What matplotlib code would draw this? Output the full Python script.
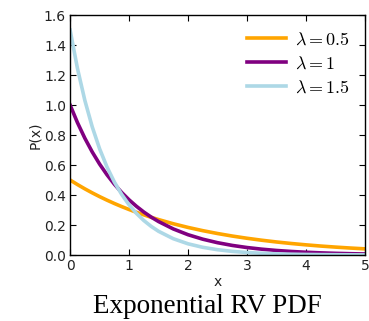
import matplotlib
matplotlib.use("Agg")
import matplotlib.pyplot as plt

x = [0, 0.125, 0.25, 0.375, 0.5, 0.625, 0.75, 0.875, 1.0, 1.125, 1.25, 1.375, 1.5,
     1.75, 2.0, 2.25, 2.5, 2.75, 3.0, 3.25, 3.5, 3.75, 4.0, 4.25, 4.5, 4.75, 5.0]
p_05 = [0.5, 0.4697, 0.4412, 0.4145, 0.3894, 0.3658, 0.3436, 0.3228, 0.3033, 0.2849, 0.2676, 0.2514, 0.2362,
        0.2084, 0.1839, 0.1623, 0.1433, 0.1264, 0.1116, 0.0985, 0.0869, 0.0767, 0.0677, 0.0597, 0.0527, 0.0465, 0.0410]
p_10 = [1.0, 0.8825, 0.7788, 0.6873, 0.6065, 0.5353, 0.4724, 0.4169, 0.3679, 0.3247, 0.2865, 0.2528, 0.2231,
        0.1738, 0.1353, 0.1054, 0.0821, 0.0639, 0.0498, 0.0388, 0.0302, 0.0235, 0.0183, 0.0143, 0.0111, 0.0087, 0.0067]
p_15 = [1.5, 1.2435, 1.0309, 0.8547, 0.7085, 0.5874, 0.4870, 0.4037, 0.3347, 0.2775, 0.2300, 0.1907, 0.1581,
        0.1087, 0.0747, 0.0513, 0.0353, 0.0242, 0.0167, 0.0114, 0.0079, 0.0054, 0.0037, 0.0025, 0.0018, 0.0012, 0.0008]
labels = [r'$\lambda=0.5$', r'$\lambda=1$', r'$\lambda=1.5$']
colors = ['orange', 'purple', 'lightblue']
x_ticks = [0, 1, 2, 3, 4, 5]
y_ticks = [0.0, 0.2, 0.4, 0.6, 0.8, 1.0, 1.2, 1.4, 1.6]

plt.rcParams['mathtext.fontset'] = 'cm'
fig = plt.figure(figsize=(3.69, 3.21), dpi=100)
ax = fig.add_axes([0.19, 0.2056, 0.799, 0.7474])
for ys, lab, c in zip([p_05, p_10, p_15], labels, colors):
    ax.plot(x, ys, color=c, lw=2.6, label=lab)
ax.set_xlim(0, 5)
ax.set_ylim(0, 1.6)
ax.set_xticks(x_ticks)
ax.set_yticks(y_ticks)
ax.set_yticklabels([f'{v:.1f}' for v in y_ticks])
ax.tick_params(direction='in', top=True, right=True, length=4, labelsize=10, pad=3,
               labelcolor='#222222')
ax.set_xlabel('x', fontsize=10, labelpad=1, color='#222222')
ax.set_ylabel('P(x)', fontsize=10, labelpad=1, color='#222222')
ax.legend(loc='upper right', frameon=False, fontsize=13, handlelength=2.2, handletextpad=0.45,
          borderaxespad=0.45, labelspacing=0.33)
for s in ax.spines.values():
    s.set_linewidth(1.0)
fig.text(0.562, 0.045, 'Exponential RV PDF', family='Liberation Serif', fontsize=19.5,
         ha='center', va='center')
fig.savefig('out.png', dpi=100)
